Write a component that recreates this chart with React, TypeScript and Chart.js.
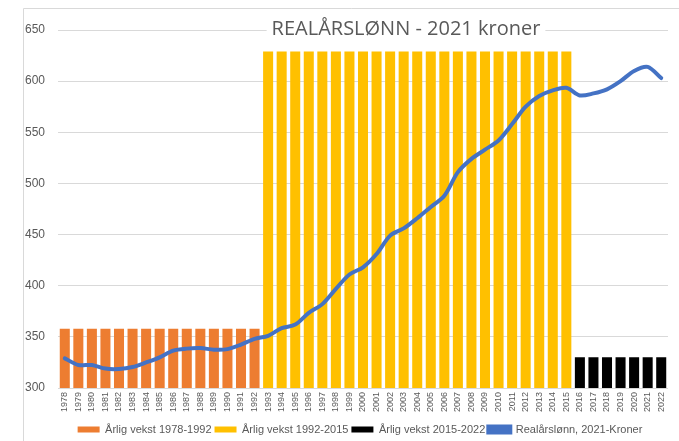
import React, { useEffect, useRef } from "react";
import { Chart, registerables } from "chart.js";

Chart.register(...registerables);

const years = [
  "1978", "1979", "1980", "1981", "1982", "1983", "1984", "1985", "1986", "1987",
  "1988", "1989", "1990", "1991", "1992", "1993", "1994", "1995", "1996", "1997",
  "1998", "1999", "2000", "2001", "2002", "2003", "2004", "2005", "2006", "2007",
  "2008", "2009", "2010", "2011", "2012", "2013", "2014", "2015", "2016", "2017",
  "2018", "2019", "2020", "2021", "2022",
];

const years1978_1992 = ["1978", "1979", "1980", "1981", "1982", "1983", "1984", "1985", "1986", "1987", "1988", "1989", "1990", "1991", "1992"];
const vekst1978_1992 = [358, 358, 358, 358, 358, 358, 358, 358, 358, 358, 358, 358, 358, 358, 358];

const years1993_2015 = ["1993", "1994", "1995", "1996", "1997", "1998", "1999", "2000", "2001", "2002", "2003", "2004", "2005", "2006", "2007", "2008", "2009", "2010", "2011", "2012", "2013", "2014", "2015"];
const vekst1992_2015 = [629, 629, 629, 629, 629, 629, 629, 629, 629, 629, 629, 629, 629, 629, 629, 629, 629, 629, 629, 629, 629, 629, 629];

const years2016_2022 = ["2016", "2017", "2018", "2019", "2020", "2021", "2022"];
const vekst2015_2022 = [330, 330, 330, 330, 330, 330, 330];

const realarslonn = [
  329, 322.5, 322.5, 319, 318.6, 320.5, 325, 330, 336.5, 338.5,
  339, 337.5, 338, 342.5, 348, 351, 358.5, 362, 373.5, 382,
  397, 411, 418, 431, 449, 456, 466, 477, 488, 511,
  524, 533, 542, 558, 575, 585.5, 591, 593.5, 586, 588,
  592, 600, 610, 614, 603,
];

const yTicks = [300, 350, 400, 450, 500, 550, 600, 650];
const titleText = "REALÅRSLØNN - 2021 kroner";

const GREY = "#595959";
const GRID = "#d9d9d9";

const pairs = (xs: string[], ys: number[]) => xs.map((x, i) => ({ x, y: ys[i] }));

const framePlugin = {
  id: "frame",
  beforeDraw(chart: any) {
    const { ctx, width, height } = chart;
    ctx.save();
    ctx.strokeStyle = GRID;
    ctx.lineWidth = 1;
    ctx.beginPath();
    ctx.moveTo(23.5, height);
    ctx.lineTo(23.5, 8.5);
    ctx.lineTo(width, 8.5);
    ctx.stroke();
    ctx.restore();
  },
};

const legendShiftPlugin = {
  id: "legendShift",
  afterLayout(chart: any) {
    const lg = chart.legend;
    if (!lg) return;
    const dx = 26;
    const dy = 4;
    lg.left += dx;
    lg.right += dx;
    lg.top += dy;
    lg.bottom += dy;
  },
};

const titlePlugin = {
  id: "overlayTitle",
  afterDraw(chart: any) {
    const { ctx } = chart;
    ctx.save();
    ctx.font = "20px 'Open Sans'";
    const w = ctx.measureText(titleText).width;
    const cx = 406;
    const cy = 29;
    ctx.fillStyle = "#ffffff";
    ctx.fillRect(cx - w / 2 - 5, cy - 12, w + 10, 24);
    ctx.fillStyle = GREY;
    ctx.textAlign = "center";
    ctx.textBaseline = "middle";
    ctx.fillText(titleText, cx, cy);
    ctx.restore();
  },
};

export default function App() {
  const ref = useRef<HTMLCanvasElement | null>(null);

  useEffect(() => {
    document.body.style.margin = "0";
    if (!ref.current) return;
    const chart = new Chart(ref.current, {
      type: "bar",
      data: {
        labels: years,
        datasets: [
          {
            type: "bar",
            label: "Årlig vekst 1978-1992",
            data: pairs(years1978_1992, vekst1978_1992) as any,
            backgroundColor: "#ED7D31",
            grouped: false,
            barPercentage: 0.74,
            categoryPercentage: 1,
            order: 1,
          },
          {
            type: "bar",
            label: "Årlig vekst 1992-2015",
            data: pairs(years1993_2015, vekst1992_2015) as any,
            backgroundColor: "#FFC000",
            grouped: false,
            barPercentage: 0.74,
            categoryPercentage: 1,
            order: 1,
          },
          {
            type: "bar",
            label: "Årlig vekst 2015-2022",
            data: pairs(years2016_2022, vekst2015_2022) as any,
            backgroundColor: "#000000",
            grouped: false,
            barPercentage: 0.74,
            categoryPercentage: 1,
            order: 1,
          },
          {
            type: "line",
            label: "Realårslønn, 2021-Kroner",
            data: realarslonn,
            borderColor: "#4472C4",
            backgroundColor: "#4472C4",
            borderWidth: 4,
            pointRadius: 0,
            tension: 0.3,
            borderCapStyle: "round",
            order: 0,
          } as any,
        ],
      },
      options: {
        animation: false,
        responsive: true,
        maintainAspectRatio: false,
        layout: { padding: { top: 30, right: 11, left: 0, bottom: 0 } },
        scales: {
          x: {
            type: "category",
            offset: true,
            grid: { display: false, drawTicks: false },
            border: { display: false },
            ticks: {
              autoSkip: false,
              minRotation: 90,
              maxRotation: 90,
              padding: 4,
              color: GREY,
              font: { family: "'Liberation Sans'", size: 9 },
            },
            afterFit(scale: any) {
              scale.height = 29;
            },
          },
          y: {
            min: 300,
            max: 650,
            grid: { color: GRID, drawTicks: false },
            border: { display: false },
            afterBuildTicks(scale: any) {
              scale.ticks = yTicks.map((v) => ({ value: v }));
            },
            ticks: {
              padding: 13,
              color: GREY,
              font: { family: "'Liberation Sans'", size: 12 },
            },
            afterFit(scale: any) {
              scale.width = 58;
            },
          },
        },
        plugins: {
          title: { display: false },
          tooltip: { enabled: false },
          legend: {
            position: "bottom",
            fullSize: true,
            labels: {
              boxWidth: 22,
              boxHeight: 6,
              padding: 3,
              color: GREY,
              font: { family: "'Liberation Sans'", size: 11 },
              sort: (a: any, b: any) => a.datasetIndex - b.datasetIndex,
            },
          },
        },
      },
      plugins: [framePlugin, legendShiftPlugin, titlePlugin],
    });
    return () => chart.destroy();
  }, []);

  return (
    <div style={{ position: "relative", width: 679, height: 441 }}>
      <canvas ref={ref} />
    </div>
  );
}
